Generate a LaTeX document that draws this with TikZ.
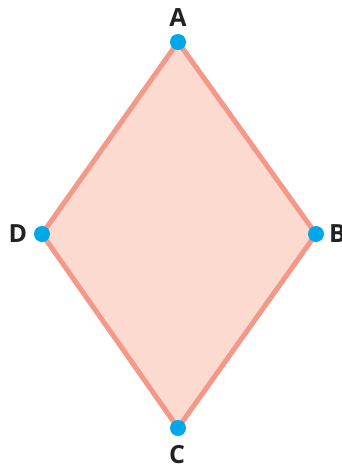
\documentclass[tikz,border=0pt]{standalone}
\usepackage{fontspec}
\setmainfont{Open Sans}
\definecolor{fillc}{RGB}{253,218,208}
\definecolor{edgec}{RGB}{244,152,138}
\definecolor{dotc}{RGB}{0,168,232}
\definecolor{txtc}{RGB}{34,34,34}
\begin{document}
\begin{tikzpicture}[x=1pt,y=-1pt,
  pt/.style={circle,fill=dotc,inner sep=0pt,minimum size=16pt},
  lab/.style={text=txtc,font=\fontsize{25}{30}\selectfont\bfseries,inner sep=0pt}]
\useasboundingbox (0,0) rectangle (342,466);
\coordinate (A) at (178,42);
\coordinate (B) at (316,234);
\coordinate (C) at (178,428);
\coordinate (D) at (42,234);
\filldraw[fill=fillc,draw=edgec,line width=5pt,line join=round] (A) -- (B) -- (C) -- (D) -- cycle;
\node[pt] (pA) at (A) {};
\node[pt] (pB) at (B) {};
\node[pt] (pC) at (C) {};
\node[pt] (pD) at (D) {};
\node[lab] (lA) at (178,18) {A};
\node[lab,anchor=west] (lB) at (329,234) {B};
\node[lab] (lC) at (177,455) {C};
\node[lab] (lD) at (18,234) {D};
\end{tikzpicture}
\end{document}
